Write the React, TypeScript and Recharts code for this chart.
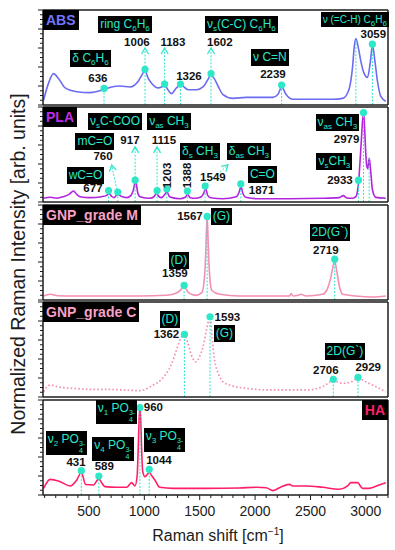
import React from 'react';
import { LineChart, Line, XAxis, YAxis, ReferenceLine, ReferenceDot } from 'recharts';

const FONT = "'Liberation Sans', Arial, Helvetica, sans-serif";
const CYAN = '#2ee6c8';
const INK = '#1c1c1c';

// x range of the figure (Raman shift, cm-1)
const X_MIN = 85;
const X_MAX = 3200;
const xTicks = [100, 200, 300, 400, 500, 600, 700, 800, 900, 1000, 1100, 1200, 1300, 1400, 1500, 1600,
  1700, 1800, 1900, 2000, 2100, 2200, 2300, 2400, 2500, 2600, 2700, 2800, 2900, 3000, 3100, 3200];
const yTicks = [0, 5, 10, 15, 20, 25, 30, 35, 40, 45, 50, 55, 60, 65, 70, 75, 80, 85, 90, 95, 100];

// spectra: [shift, normalized intensity]
const absSpectrum = [
  [90, 5], [135, 23], [180, 33], [225, 28], [285, 18], [390, 14], [510, 13], [630, 16], [705, 19], [780, 20],
  [870, 19], [945, 25], [980, 32], [1006, 36], [1035, 28], [1065, 23], [1125, 18], [1183, 20], [1245, 12],
  [1290, 18], [1330, 21], [1395, 16], [1470, 16], [1530, 19], [1570, 26], [1600, 31], [1630, 28], [1665, 20],
  [1710, 11], [1800, 7], [1920, 8], [2040, 8], [2160, 8], [2205, 11], [2240, 19], [2280, 11], [2340, 6],
  [2520, 6], [2700, 6], [2790, 7], [2840, 14], [2865, 26], [2880, 40], [2895, 61], [2910, 70], [2931, 61],
  [2955, 46], [2985, 33], [3015, 29], [3039, 44], [3060, 63], [3081, 47], [3105, 25], [3135, 9], [3180, 4],
];
const plaSpectrum = [
  [90, 4], [150, 5], [210, 4], [270, 5.6], [320, 8], [360, 11.6], [390, 8], [420, 5.6], [510, 4.6], [615, 5.6],
  [660, 7], [681, 9], [705, 6], [726, 4.6], [760, 8], [790, 6], [840, 4.6], [880, 7], [900, 12], [921, 22],
  [940, 10], [960, 5.6], [1050, 3.9], [1090, 6], [1110, 9], [1130, 6], [1155, 4.6], [1185, 8], [1203, 11],
  [1225, 6], [1250, 4.6], [1320, 3.5], [1370, 5], [1390, 8], [1415, 4.5], [1455, 3.9], [1515, 5.6], [1535, 9],
  [1554, 14], [1572, 7], [1600, 4.5], [1710, 3.5], [1830, 5.6], [1855, 10], [1872, 16], [1890, 9], [1915, 5],
  [2010, 3.5], [2310, 3.5], [2610, 3.9], [2760, 4.6], [2796, 6.7], [2830, 4.2], [2880, 4], [2910, 5.6],
  [2925, 12], [2934, 20], [2946, 40], [2958, 62], [2970, 85], [2980, 94], [2990, 75], [3000, 50], [3008, 38],
  [3018, 35], [3030, 46], [3042, 35], [3060, 12.6], [3090, 4.9], [3180, 3.9],
];
const gnpMSpectrum = [
  [90, 4.2], [150, 6], [220, 4.5], [360, 4.2], [660, 4.2], [960, 4.2], [1200, 5], [1260, 6], [1320, 9.5],
  [1356, 14], [1380, 11], [1400, 7.5], [1470, 4.9], [1520, 8], [1540, 20], [1553, 45], [1560, 70], [1567, 88],
  [1574, 70], [1581, 45], [1594, 20], [1610, 10], [1680, 6], [1860, 4.2], [2310, 4.2], [2325, 6.7], [2345, 4.2],
  [2390, 5], [2415, 6], [2460, 4.2], [2610, 6], [2650, 11], [2680, 22], [2700, 33], [2719, 41], [2738, 30],
  [2760, 15], [2790, 6], [2910, 4.2], [3060, 3.2], [3180, 4.2],
];
const gnpCSpectrum = [
  [90, 5.6], [150, 12.6], [240, 10.2], [360, 9.1], [510, 8.1], [660, 8.1], [810, 7.4], [960, 6.7], [1080, 12.6],
  [1150, 18], [1200, 25], [1250, 36], [1290, 49.5], [1330, 62], [1362, 66], [1390, 58], [1410, 49.5],
  [1440, 40], [1464, 37], [1500, 43], [1530, 53], [1560, 70], [1593, 84], [1612, 62], [1630, 42], [1660, 27],
  [1680, 21.4], [1720, 15], [1770, 12.6], [1920, 9.1], [2160, 7.4], [2460, 7.4], [2610, 10.9], [2706, 17],
  [2790, 14.4], [2870, 16], [2929, 19.5], [3000, 16], [3060, 12.6], [3180, 5.6],
];
const haSpectrum = [
  [90, 7], [150, 16.5], [240, 14], [330, 9.5], [390, 15.8], [431, 24], [470, 11], [540, 10.5], [589, 17],
  [620, 12], [645, 8.8], [750, 8.1], [840, 8.1], [885, 13], [915, 9.5], [935, 20], [945, 50], [953, 80],
  [960, 92], [967, 80], [975, 50], [985, 25], [1005, 19.3], [1044, 23.5], [1075, 19], [1095, 15.8], [1140, 8.1],
  [1260, 7], [1560, 7], [1860, 7.4], [2010, 8.1], [2100, 7.7], [2160, 4.6], [2220, 7.7], [2310, 11.2],
  [2340, 9.5], [2460, 9.5], [2610, 8.1], [2760, 6], [2835, 9.5], [2865, 13], [2925, 13], [2970, 7], [3030, 7],
  [3120, 10.5], [3180, 13],
];

// marked peaks: [shift, height of the marker]
const absPeaks = [[636, 17.5], [1006, 37.5], [1183, 22], [1326, 22], [1602, 33], [2239, 21], [3059, 64]];
const plaPeaks = [[677, 12], [760, 10.5], [917, 23], [1115, 12], [1203, 13.7], [1388, 11.6], [1549, 16.8],
  [1871, 19], [2933, 23], [2979, 94]];
const gnpMPeaks = [[1359, 15.5], [1567, 88], [2719, 43]];
const gnpCPeaks = [[1362, 66], [1593, 84.5], [2706, 18.6], [2929, 20.7]];
const haPeaks = [[431, 25.6], [589, 20], [960, 92], [1044, 27]];

// guide lines without a dot
const absGuides = [[2910, 70]];
const plaGuides = [[3030, 46]];

// arrows [x1, y1, x2, y2]
const absArrows = [[1006, 40, 1006, 60], [1183, 24.5, 1183, 60], [1602, 35.5, 1602, 60]];
const plaArrows = [[917, 25.5, 917, 58], [1115, 14.5, 1115, 58], [752, 13, 705, 39], [1565, 19, 1755, 39]];

const Sub = ({ c }: any) => <span style={{ fontSize: 8, verticalAlign: -3, lineHeight: 0 }}>{c}</span>;
const Ion = ({ up, down }: any) => (
  <span style={{ display: 'inline-flex', flexDirection: 'column', fontSize: 7, lineHeight: '7px', verticalAlign: -3 }}>
    <span>{up}</span>
    <span>{down}</span>
  </span>
);
const C6H6 = () => <>C<Sub c="6" />H<Sub c="6" /></>;
const CH3 = () => <>CH<Sub c="3" /></>;
const PO4 = () => <>PO<Ion up="3-" down="4" /></>;

const absTags = [
  { x: 85, y: 100, at: 'tl', kind: 'name', t: 'ABS' },
  { x: 514, y: 49, kind: 'box', t: <>δ <C6H6 /></> },
  { x: 581, y: 28.4, kind: 'num', t: '636' },
  { x: 825, y: 85, kind: 'box', t: <>ring <C6H6 /></> },
  { x: 933, y: 66, kind: 'num', t: '1006' },
  { x: 1258, y: 66, kind: 'num', t: '1183' },
  { x: 1403, y: 30.5, kind: 'num', t: '1326' },
  { x: 1682, y: 66, kind: 'num', t: '1602' },
  { x: 1876, y: 85, kind: 'box', t: <>ν<Sub c="s" />(C-C) <C6H6 /></> },
  { x: 2134, y: 49.5, kind: 'box', t: 'ν C=N' },
  { x: 2161, y: 32.6, kind: 'num', t: '2239' },
  { x: 2901, y: 90, kind: 'small', t: <>ν (=C-H) <C6H6 /></> },
  { x: 3068, y: 73.7, kind: 'num', t: '3059' },
];
const plaTags = [
  { x: 85, y: 100, at: 'tl', kind: 'name', t: 'PLA' },
  { x: 735, y: 84.7, kind: 'box', t: <>ν<Sub c="s" />C-COO</> },
  { x: 1222, y: 84.7, kind: 'box', t: <>ν<Sub c="as" /> <CH3 /></> },
  { x: 870, y: 65, kind: 'num', t: '917' },
  { x: 1177, y: 65, kind: 'num', t: '1115' },
  { x: 554, y: 63.7, kind: 'box', t: 'mC=O' },
  { x: 627, y: 47.4, kind: 'num', t: '760' },
  { x: 1502, y: 53, kind: 'box', t: <>δ<Sub c="s" /> <CH3 /></> },
  { x: 1944, y: 53, kind: 'box', t: <>δ<Sub c="as" /> <CH3 /></> },
  { x: 1216, y: 28.4, kind: 'vnum', t: '1203' },
  { x: 1394, y: 27.4, kind: 'vnum', t: '1388' },
  { x: 1619, y: 26.3, kind: 'num', t: '1549' },
  { x: 469, y: 28.4, kind: 'box', t: 'wC=O' },
  { x: 536, y: 13.7, kind: 'num', t: '677' },
  { x: 2066, y: 29, kind: 'box', t: 'C=O' },
  { x: 2059, y: 12.6, kind: 'num', t: '1871' },
  { x: 2743, y: 84.2, kind: 'box', t: <>ν<Sub c="as" /> <CH3 /></> },
  { x: 2826, y: 65.3, kind: 'num', t: '2979' },
  { x: 2716, y: 42.6, kind: 'box', t: <>ν<Sub c="s" /><CH3 /></> },
  { x: 2766, y: 23, kind: 'num', t: '2933' },
];
const gnpMTags = [
  { x: 85, y: 100, at: 'tl', kind: 'name', t: 'GNP_grade M' },
  { x: 1412, y: 87.7, kind: 'num', t: '1567' },
  { x: 1696, y: 87.4, kind: 'box', t: '(G)' },
  { x: 1312, y: 42, kind: 'box', t: '(D)' },
  { x: 1276, y: 27.4, kind: 'num', t: '1359' },
  { x: 2675, y: 71, kind: 'box', t: '2D(G`)' },
  { x: 2639, y: 52.6, kind: 'num', t: '2719' },
];
const gnpCTags = [
  { x: 85, y: 100, at: 'tl', kind: 'name', t: 'GNP_grade C' },
  { x: 1231, y: 82, kind: 'box', t: '(D)' },
  { x: 1200, y: 66.3, kind: 'num', t: '1362' },
  { x: 1750, y: 84.2, kind: 'num', t: '1593' },
  { x: 1723, y: 66.8, kind: 'box', t: '(G)' },
  { x: 2811, y: 47.9, kind: 'box', t: '2D(G`)' },
  { x: 2639, y: 28.4, kind: 'num', t: '2706' },
  { x: 3021, y: 31.3, kind: 'num', t: '2929' },
];
const haTags = [
  { x: 3200, y: 100, at: 'tr', kind: 'name', t: 'HA' },
  { x: 748, y: 87.4, kind: 'box', t: <>ν<Sub c="1" /> <PO4 /></> },
  { x: 1082, y: 91.6, kind: 'num', t: '960' },
  { x: 1182, y: 57.9, kind: 'box', t: <>ν<Sub c="3" /> <PO4 /></> },
  { x: 1132, y: 35.8, kind: 'num', t: '1044' },
  { x: 297, y: 54.7, kind: 'box', t: <>ν<Sub c="2" /> <PO4 /></> },
  { x: 383, y: 33.7, kind: 'num', t: '431' },
  { x: 717, y: 48.4, kind: 'box', t: <>ν<Sub c="4" /> <PO4 /></> },
  { x: 638, y: 29.5, kind: 'num', t: '589' },
];

const panels = [
  { top: 10, color: '#6b6bf4', nameColor: '#7474ff', spectrum: absSpectrum, peaks: absPeaks, guides: absGuides, arrows: absArrows, tags: absTags },
  { top: 107, color: '#b324e0', nameColor: '#b92ee6', spectrum: plaSpectrum, peaks: plaPeaks, guides: plaGuides, arrows: plaArrows, tags: plaTags },
  { top: 205, color: '#f48fb6', nameColor: '#f7a2c6', spectrum: gnpMSpectrum, peaks: gnpMPeaks, guides: [], arrows: [], tags: gnpMTags },
  { top: 302, color: '#f48fb6', nameColor: '#f7a2c6', spectrum: gnpCSpectrum, peaks: gnpCPeaks, guides: [], arrows: [], tags: gnpCTags, dotted: true },
  { top: 400, color: '#ff1f66', nameColor: '#ff1f66', spectrum: haSpectrum, peaks: haPeaks, guides: [], arrows: [], tags: haTags, last: true },
];

const PANEL_H = 95;
const frame = { stroke: INK, strokeWidth: 1.5 };

const YTick = (p: any) => {
  const len = p.payload.value % 20 === 0 ? 5 : 3;
  return <line x1={p.x} x2={p.x - len} y1={p.y} y2={p.y} stroke={INK} strokeWidth={1} />;
};

const XTick = (p: any) => {
  const v = p.payload.value;
  const major = v % 500 === 0;
  return (
    <g>
      <line x1={p.x} x2={p.x} y1={p.y} y2={p.y + (major ? 5 : 3)} stroke={INK} strokeWidth={1} />
      {major && (
        <text x={p.x} y={p.y + 21} textAnchor="middle" fontSize={14} fontFamily={FONT} fill={INK}>
          {v}
        </text>
      )}
    </g>
  );
};

const ArrowShape = (p: any) => {
  const { x1, y1, x2, y2 } = p;
  const a = Math.atan2(y2 - y1, x2 - x1);
  const L = 6;
  const W = 3.5;
  const bx = x2 - L * Math.cos(a);
  const by = y2 - L * Math.sin(a);
  const pts = `${bx - W * Math.sin(a)},${by + W * Math.cos(a)} ${x2},${y2} ${bx + W * Math.sin(a)},${by - W * Math.cos(a)}`;
  return (
    <g>
      <line x1={x1} y1={y1} x2={x2} y2={y2} stroke={CYAN} strokeWidth={1} strokeDasharray="2 1.5" />
      <polyline points={pts} fill="none" stroke={CYAN} strokeWidth={1.3} />
    </g>
  );
};

const tagStyle = (kind: string, color: string): React.CSSProperties => {
  if (kind === 'name') {
    return { background: '#000', color, fontWeight: 'bold', fontSize: 14, lineHeight: '18px', padding: '1px 3px' };
  }
  if (kind === 'box' || kind === 'small') {
    return { background: '#000', color: CYAN, fontSize: kind === 'small' ? 10 : 12, lineHeight: kind === 'small' ? '13px' : '15px', padding: '1px 2px' };
  }
  return {
    color: '#111', fontWeight: 'bold', fontSize: 11.5, lineHeight: '13px',
    transform: kind === 'vnum' ? 'rotate(-90deg)' : undefined,
  };
};

const TagShape = ({ cx, cy, tag, color }: any) => {
  const W = 160;
  const H = 40;
  let x = cx - W / 2;
  let y = cy - H / 2;
  let justify = 'center';
  let align = 'center';
  if (tag.at === 'tl') { x = cx; y = cy; justify = 'flex-start'; align = 'flex-start'; }
  if (tag.at === 'tr') { x = cx - W; y = cy; justify = 'flex-end'; align = 'flex-start'; }
  return (
    <foreignObject x={x} y={y} width={W} height={H} style={{ overflow: 'visible' }}>
      <div style={{ width: W, height: H, display: 'flex', justifyContent: justify, alignItems: align, fontFamily: FONT }}>
        <span style={{ whiteSpace: 'nowrap', display: 'inline-block', ...tagStyle(tag.kind, color) }}>{tag.t}</span>
      </div>
    </foreignObject>
  );
};

const Panel = ({ p }: any) => {
  const data = p.spectrum.map(([x, y]: number[]) => ({ x, y }));
  const bottom = p.last ? 30 : 4;
  return (
    <div style={{ position: 'absolute', left: 0, top: p.top - 5 }}>
      <LineChart width={395} height={PANEL_H + 5 + bottom + 1} margin={{ top: 4, right: 6, bottom, left: 0 }}>
        <XAxis
          type="number"
          dataKey="x"
          domain={[X_MIN, X_MAX]}
          allowDataOverflow
          ticks={xTicks}
          interval={0}
          height={1}
          tickSize={0}
          tickMargin={0}
          tickLine={false}
          tick={p.last ? XTick : false}
          axisLine={frame}
        />
        <XAxis xAxisId="t" orientation="top" type="number" domain={[X_MIN, X_MAX]} height={1} tick={false} tickLine={false} axisLine={frame} />
        <YAxis
          type="number"
          domain={[0, 100]}
          allowDataOverflow
          ticks={yTicks}
          interval={0}
          width={43}
          tickSize={0}
          tickMargin={0}
          tickLine={false}
          tick={YTick}
          axisLine={frame}
        />
        <YAxis yAxisId="r" orientation="right" width={1} domain={[0, 100]} tick={false} tickLine={false} axisLine={frame} />
        <Line
          data={data}
          dataKey="y"
          type="monotone"
          stroke={p.color}
          strokeWidth={p.dotted ? 1.7 : 1.6}
          strokeDasharray={p.dotted ? '1.6 2.2' : undefined}
          dot={false}
          isAnimationActive={false}
        />
        {[...p.peaks, ...p.guides].map(([x, y]: number[], i: number) => (
          <ReferenceLine
            key={`g${i}`}
            segment={[{ x, y: 0 }, { x, y }]}
            stroke={CYAN}
            strokeWidth={1}
            strokeDasharray="2 1.5"
            ifOverflow="visible"
          />
        ))}
        {p.arrows.map(([x1, y1, x2, y2]: number[], i: number) => (
          <ReferenceLine key={`a${i}`} segment={[{ x: x1, y: y1 }, { x: x2, y: y2 }]} shape={ArrowShape} ifOverflow="visible" />
        ))}
        {p.peaks.map(([x, y]: number[], i: number) => (
          <ReferenceDot key={`d${i}`} x={x} y={y} r={3.6} fill={CYAN} stroke="none" ifOverflow="visible" />
        ))}
        {p.tags.map((t: any, i: number) => (
          <ReferenceDot
            key={`t${i}`}
            x={t.x}
            y={t.y}
            r={1}
            ifOverflow="visible"
            shape={(sp: any) => <TagShape cx={sp.cx} cy={sp.cy} tag={t} color={p.nameColor} />}
          />
        ))}
      </LineChart>
    </div>
  );
};

export default function App() {
  return (
    <div style={{ position: 'absolute', left: 0, top: 0, width: 395, height: 550, background: '#fff', fontFamily: FONT, color: INK }}>
      {panels.map((p, i) => (
        <Panel key={i} p={p} />
      ))}
      <div
        style={{
          position: 'absolute', left: 18, top: 264, transform: 'translate(-50%, -50%) rotate(-90deg)',
          fontSize: 19.5, whiteSpace: 'nowrap',
        }}
      >
        Normalized Raman Intensity [arb. units]
      </div>
      <div style={{ position: 'absolute', left: 218, top: 536, transform: 'translate(-50%, -50%)', fontSize: 16, whiteSpace: 'nowrap' }}>
        Raman shift [cm<sup style={{ fontSize: 10, lineHeight: 0 }}>−1</sup>]
      </div>
    </div>
  );
}
